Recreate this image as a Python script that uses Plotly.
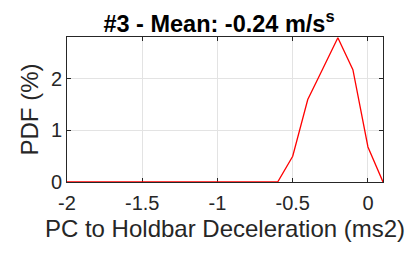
import plotly.graph_objects as go

bin_centers = [-2.0, -1.9, -1.8, -1.7, -1.6, -1.5, -1.4, -1.3, -1.2, -1.1, -1.0,
               -0.9, -0.8, -0.7, -0.6, -0.5, -0.4, -0.3, -0.2, -0.1, 0.0, 0.1]
pdf_values = [0, 0, 0, 0, 0, 0, 0, 0, 0, 0, 0,
              0, 0, 0, 0, 0.5, 1.6, 2.2, 2.8, 2.18, 0.68, 0]
x_ticks = [-2, -1.5, -1, -0.5, 0]
x_tick_labels = ["-2", "-1.5", "-1", "-0.5", "0"]
y_ticks = [0, 1, 2]
y_tick_labels = ["0", "1", "2"]

font_family = "Liberation Sans, Arial, Helvetica, sans-serif"

fig = go.Figure()
fig.add_trace(go.Scatter(x=bin_centers, y=pdf_values, mode="lines",
                         line=dict(color="#ff0000", width=1.3),
                         cliponaxis=False, showlegend=False))

axis_common = dict(showline=True, linecolor="#262626", linewidth=1,
                   mirror="allticks", ticks="inside", ticklen=4,
                   tickcolor="#262626", showgrid=True, gridcolor="#e3e3e3",
                   gridwidth=1, zeroline=False, layer="below traces",
                   automargin=False,
                   tickfont=dict(family=font_family, size=20, color="#262626"))

fig.update_xaxes(range=[-2, 0.1], tickvals=x_ticks, ticktext=x_tick_labels,
                 ticklabelstandoff=3,
                 title=dict(text="PC to Holdbar Deceleration (ms2)",
                            font=dict(family=font_family, size=24, color="#262626"),
                            standoff=7),
                 **axis_common)
fig.update_yaxes(range=[0, 2.815], tickvals=y_ticks, ticktext=y_tick_labels,
                 title=dict(text="PDF (%)",
                            font=dict(family=font_family, size=24, color="#262626"),
                            standoff=5),
                 **axis_common)

# page body has an 8px margin, so the figure is 405x245 and shifted by 8px
fig.update_layout(
    width=405, height=245,
    margin=dict(l=59, r=30, t=29, b=71),
    paper_bgcolor="white", plot_bgcolor="white",
    title=dict(text="<b>#3 - Mean: -0.24 m/s<sup>s</sup></b>",
               x=211 / 405, xanchor="center", y=1 - 16 / 245, yanchor="middle",
               font=dict(family=font_family, size=23.5, color="black")),
)

fig.write_html("out.html")
